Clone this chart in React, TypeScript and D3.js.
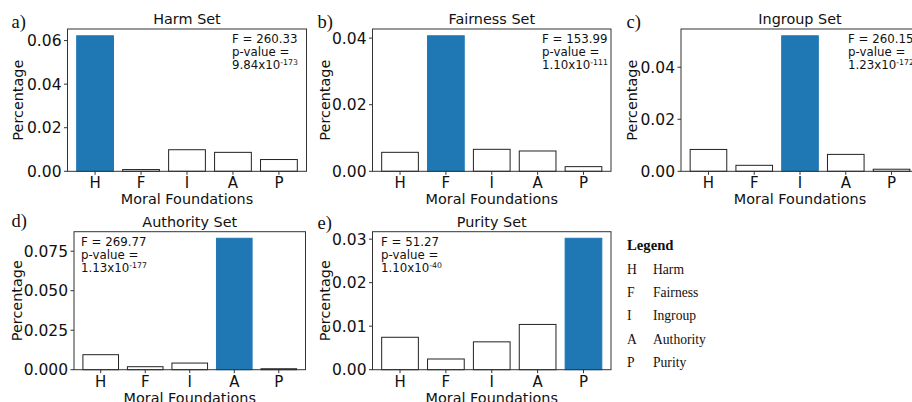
import React from "react";
import * as d3 from "d3";

const categories = ["H", "F", "I", "A", "P"];
const harmValues = [0.0622, 0.0008, 0.0099, 0.0087, 0.0054];
const fairnessValues = [0.0057, 0.0407, 0.0066, 0.0061, 0.0014];
const ingroupValues = [0.0084, 0.0023, 0.0521, 0.0065, 0.0008];
const authorityValues = [0.0095, 0.0019, 0.0042, 0.0832, 0.0006];
const purityValues = [0.00745, 0.00246, 0.0064, 0.0104, 0.0302];

const titles = ["Harm Set", "Fairness Set", "Ingroup Set", "Authority Set", "Purity Set"];
const panelLetters = ["a)", "b)", "c)", "d)", "e)"];
const fStats = ["260.33", "153.99", "260.15", "269.77", "51.27"];
const pMantissa = ["9.84", "1.10", "1.23", "1.13", "1.10"];
const pExponent = ["-173", "-111", "-172", "-177", "-40"];
const highlightIndex = [0, 1, 2, 3, 4];
const yTicks = [
  [0, 0.02, 0.04, 0.06],
  [0, 0.02, 0.04],
  [0, 0.02, 0.04],
  [0, 0.025, 0.05, 0.075],
  [0, 0.01, 0.02, 0.03],
];
const tickDecimals = [2, 2, 2, 3, 2];
const legendCodes = ["H", "F", "I", "A", "P"];
const legendNames = ["Harm", "Fairness", "Ingroup", "Authority", "Purity"];

const allValues = [harmValues, fairnessValues, ingroupValues, authorityValues, purityValues];

// layout (positions only)
const layouts = [
  { left: 67.5, right: 306.5, top: 29, bottom: 171.3, ylabX: 18, annX: 232, letterX: 11.5, letterY: 28 },
  { left: 372.5, right: 611, top: 29, bottom: 171.3, ylabX: 325, annX: 542, letterX: 317.5, letterY: 28 },
  { left: 681, right: 919, top: 29, bottom: 171.3, ylabX: 632, annX: 848, letterX: 626.5, letterY: 28 },
  { left: 74, right: 305.5, top: 231.7, bottom: 369.7, ylabX: 17, annX: 81, letterX: 11.5, letterY: 227 },
  { left: 372.5, right: 611, top: 231.7, bottom: 369.7, ylabX: 325, annX: 381, letterX: 317.5, letterY: 229 },
];

const BLUE = "#1f77b4";
const SANS = "DejaVu Sans";
const SERIF = "Liberation Serif";

function Panel({ i }: { i: number }) {
  const L = layouts[i];
  const vals = allValues[i];
  const x = d3.scaleBand<string>().domain(categories).range([L.left, L.right]).paddingInner(0.2).paddingOuter(0.2);
  const ymax = (d3.max(vals) as number) * 1.05;
  const y = d3.scaleLinear().domain([0, ymax]).range([L.bottom, L.top]);
  const fmt = d3.format(`.${tickDecimals[i]}f`);
  const cx = (L.left + L.right) / 2;
  const annY = L.top + 14.3;
  return (
    <g>
      {vals.map((v, j) => (
        <rect
          key={j}
          x={x(categories[j])}
          y={y(v)}
          width={x.bandwidth()}
          height={L.bottom - y(v)}
          fill={j === highlightIndex[i] ? BLUE : "#ffffff"}
          stroke={j === highlightIndex[i] ? BLUE : "#222"}
          strokeWidth={1}
        />
      ))}
      <rect x={L.left} y={L.top} width={L.right - L.left} height={L.bottom - L.top} fill="none" stroke="#333" strokeWidth={1} />
      {yTicks[i].map((t) => (
        <g key={t}>
          <line x1={L.left - 3.5} x2={L.left} y1={y(t)} y2={y(t)} stroke="#333" />
          <text x={L.left - 6} y={y(t)} dy="0.36em" textAnchor="end" fontFamily={SANS} fontSize={15.5} fill="#111">
            {fmt(t)}
          </text>
        </g>
      ))}
      {categories.map((c) => {
        const xc = (x(c) as number) + x.bandwidth() / 2;
        return (
          <g key={c}>
            <line x1={xc} x2={xc} y1={L.bottom} y2={L.bottom + 3.5} stroke="#333" />
            <text x={xc} y={L.bottom + 17} textAnchor="middle" fontFamily={SANS} fontSize={15} fill="#111">
              {c}
            </text>
          </g>
        );
      })}
      <text x={cx} y={L.bottom + 33} textAnchor="middle" fontFamily={SANS} fontSize={14.4} fill="#111">
        Moral Foundations
      </text>
      <text
        transform={`translate(${L.ylabX},${(L.top + L.bottom) / 2}) rotate(-90)`}
        dy="0.36em"
        textAnchor="middle"
        fontFamily={SANS}
        fontSize={14.4}
        fill="#111"
      >
        Percentage
      </text>
      <text x={cx} y={L.top - 5} textAnchor="middle" fontFamily={SANS} fontSize={14.4} fill="#111">
        {titles[i]}
      </text>
      <text x={L.letterX} y={L.letterY} fontFamily={SERIF} fontSize={18.5} fill="#111">
        {panelLetters[i]}
      </text>
      <g fontFamily={SANS} fontSize={11.8} fill="#111">
        <text x={L.annX} y={annY}>{`F = ${fStats[i]}`}</text>
        <text x={L.annX} y={annY + 12.7}>p-value =</text>
        <text x={L.annX} y={annY + 25.7}>
          {`${pMantissa[i]}x10`}
          <tspan fontSize={7.8} dy={-4}>{pExponent[i]}</tspan>
        </text>
      </g>
    </g>
  );
}

export default function App() {
  return (
    <svg
      width={912}
      height={402}
      style={{ position: "absolute", left: 0, top: 0, background: "#fff" }}
    >
      <rect width={912} height={402} fill="#fff" />
      {[0, 1, 2, 3, 4].map((i) => (
        <Panel key={i} i={i} />
      ))}
      <g fontFamily={SERIF} fill="#111">
        <text x={627} y={250} fontSize={14.7} fontWeight="bold">Legend</text>
        {legendCodes.map((c, k) => (
          <g key={c}>
            <text x={627} y={274 + k * 23.2} fontSize={13.6}>{c}</text>
            <text x={653} y={274 + k * 23.2} fontSize={13.6}>{legendNames[k]}</text>
          </g>
        ))}
      </g>
    </svg>
  );
}
